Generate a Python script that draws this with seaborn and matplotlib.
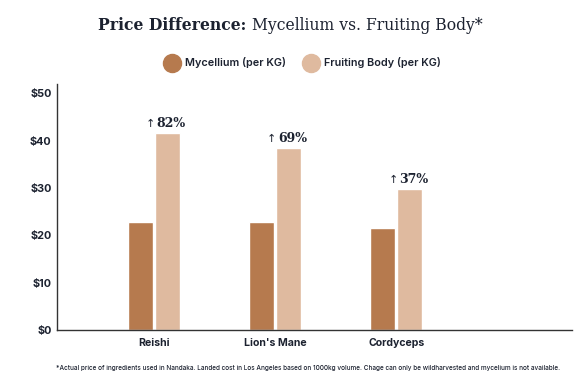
import matplotlib
matplotlib.use("Agg")
import matplotlib.pyplot as plt
import seaborn as sns
import pandas as pd
from matplotlib.lines import Line2D

categories = ["Reishi", "Lion's Mane", "Cordyceps"]
mycelium = [22.8, 22.8, 21.6]
fruiting = [41.6, 38.5, 29.8]
pct_labels = ["82%", "69%", "37%"]
series = ["Mycellium (per KG)", "Fruiting Body (per KG)"]
yticks = [0, 10, 20, 30, 40, 50]
ytick_labels = ["$0", "$10", "$20", "$30", "$40", "$50"]

colors = ["#B67A4E", "#DFBA9F"]
text_col = "#1C2230"

df = pd.DataFrame({
    "cat": categories * 2,
    "series": [series[0]] * 3 + [series[1]] * 3,
    "value": mycelium + fruiting,
})

sns.set_theme(style="white")
plt.rcParams['font.family'] = ['Inter', 'DejaVu Sans']

fig = plt.figure(figsize=(5.8, 3.87), dpi=100)
ax = fig.add_axes([57/580, 1 - 330/387, 515/580, 246/387])

sns.barplot(data=df, x="cat", y="value", hue="series", order=categories,
            hue_order=series, palette=colors, width=0.44, gap=0.06,
            saturation=1, ax=ax, legend=False, errorbar=None)

ax.set_xlim(-0.80, 3.45)
ax.set_ylim(0, 52)
ax.set_yticks(yticks)
ax.set_yticklabels(ytick_labels, fontsize=7.8, fontweight='bold', color=text_col)
ax.tick_params(axis='x', labelsize=7.6, colors=text_col, length=0, pad=6)
ax.tick_params(axis='y', length=0, pad=4)
for lab in ax.get_xticklabels():
    lab.set_fontweight('bold')
ax.set_xlabel("")
ax.set_ylabel("")
for s in ["top", "right"]:
    ax.spines[s].set_visible(False)
for s in ["left", "bottom"]:
    ax.spines[s].set_color("#333333")
    ax.spines[s].set_linewidth(1.0)

# percentage labels above fruiting bars: small thin arrow + serif number
fruit_bars = ax.containers[1]
for bar, lab in zip(fruit_bars, pct_labels):
    cx = bar.get_x() + bar.get_width() / 2
    ax.annotate(lab, (cx, bar.get_height()),
                xytext=(3.0, 4.2), textcoords="offset points", ha="center", va="baseline",
                fontsize=9.0, fontfamily="DejaVu Serif", fontweight="bold", color=text_col)
    ax.annotate("↑", (cx, bar.get_height()),
                xytext=(-12.0, 4.4), textcoords="offset points", ha="center", va="baseline",
                fontsize=8, fontfamily="DejaVu Sans", color=text_col)

# title: bold part + regular part, centered together
fig.canvas.draw()
r = fig.canvas.get_renderer()
t1 = fig.text(0, 1 - 25/387, "Price Difference: ", fontsize=11.25, fontweight='bold',
              fontfamily="DejaVu Serif", color=text_col, va="center")
t2 = fig.text(0, 1 - 25/387, "Mycellium vs. Fruiting Body*", fontsize=11.25,
              fontfamily="DejaVu Serif", color=text_col, va="center")
w1 = t1.get_window_extent(r).width
w2 = t2.get_window_extent(r).width
total = w1 + w2
start = 290 - total / 2
t1.set_x(start / 580)
t2.set_x((start + w1) / 580)

handles = [Line2D([0], [0], marker='o', linestyle='', markersize=13,
                  markerfacecolor=c, markeredgecolor=c) for c in colors]
leg = fig.legend(handles, series, loc="center", bbox_to_anchor=(303/580, 1 - 63/387),
                 ncol=2, frameon=False, fontsize=7.8, handletextpad=0.6,
                 columnspacing=1.6, handlelength=1.3)
for t in leg.get_texts():
    t.set_fontweight('semibold')
    t.set_color(text_col)

fig.text(308/580, 1 - 368/387,
         "*Actual price of ingredients used in Nandaka. Landed cost in Los Angeles based on 1000kg volume. "
         "Chage can only be wildharvested and mycelium is not available.",
         fontsize=4.65, fontweight='medium', color=text_col, ha="center", va="center")

fig.savefig("out.png", dpi=100)
